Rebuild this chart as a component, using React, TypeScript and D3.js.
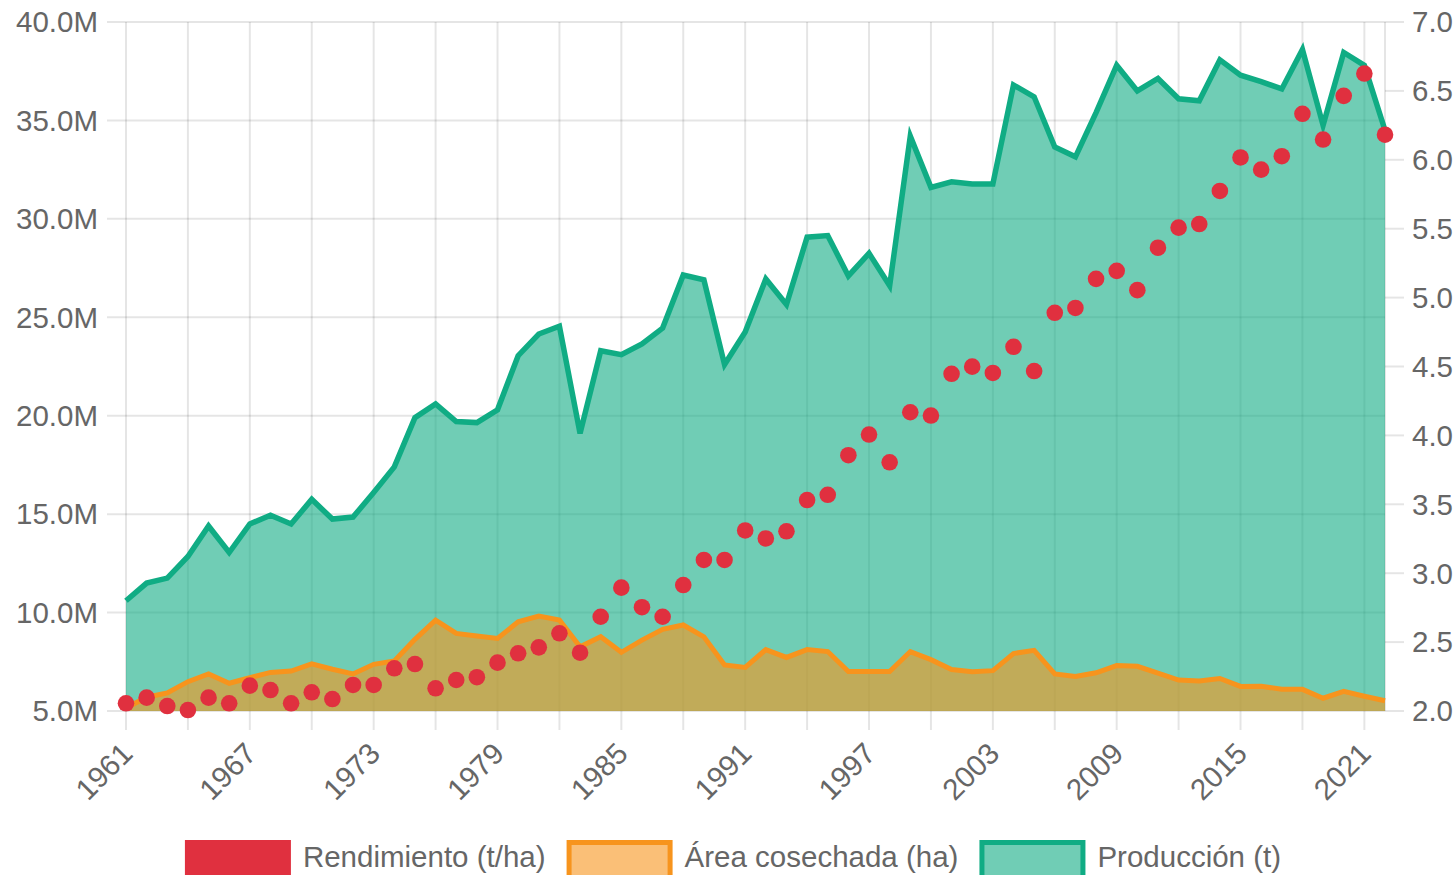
import React, { useEffect, useRef } from 'react';
import * as d3 from 'd3';

// Years 1961-2022
const years = [
  1961, 1962, 1963, 1964, 1965, 1966, 1967, 1968, 1969, 1970,
  1971, 1972, 1973, 1974, 1975, 1976, 1977, 1978, 1979, 1980,
  1981, 1982, 1983, 1984, 1985, 1986, 1987, 1988, 1989, 1990,
  1991, 1992, 1993, 1994, 1995, 1996, 1997, 1998, 1999, 2000,
  2001, 2002, 2003, 2004, 2005, 2006, 2007, 2008, 2009, 2010,
  2011, 2012, 2013, 2014, 2015, 2016, 2017, 2018, 2019, 2020,
  2021, 2022,
];

// Producción (millones de t)
const produccion = [
  10.6, 11.5, 11.75, 12.85, 14.4, 13.05, 14.5, 14.95, 14.5, 15.75,
  14.75, 14.85, 16.1, 17.4, 19.9, 20.6, 19.7, 19.65, 20.3, 23.05,
  24.15, 24.55, 19.1, 23.3, 23.1, 23.65, 24.45, 27.15, 26.9, 22.6,
  24.25, 26.95, 25.65, 29.07, 29.15, 27.1, 28.25, 26.6, 34.2, 31.6,
  31.88, 31.77, 31.77, 36.8, 36.2, 33.65, 33.15, 35.4, 37.8, 36.5,
  37.13, 36.1, 36.0, 38.08, 37.3, 36.97, 36.6, 38.6, 34.75, 38.45,
  37.8, 34.5,
];

// Área cosechada (millones de ha)
const area = [
  5.15, 5.7, 5.92, 6.49, 6.88, 6.41, 6.69, 6.96, 7.03, 7.39,
  7.12, 6.88, 7.37, 7.54, 8.64, 9.62, 8.94, 8.81, 8.69, 9.53,
  9.82, 9.62, 8.26, 8.77, 7.98, 8.6, 9.15, 9.37, 8.77, 7.34,
  7.21, 8.12, 7.72, 8.12, 8.02, 7.01, 7.01, 7.01, 8.02, 7.61,
  7.11, 7.0, 7.05, 7.92, 8.08, 6.88, 6.75, 6.94, 7.31, 7.27,
  6.93, 6.57, 6.53, 6.65, 6.25, 6.26, 6.1, 6.1, 5.65, 6.0,
  5.75, 5.52,
];

// Rendimiento (t/ha)
const rendimiento = [
  2.056, 2.097, 2.036, 2.007, 2.097, 2.056, 2.184, 2.152, 2.056, 2.136,
  2.087, 2.189, 2.189, 2.31, 2.341, 2.165, 2.225, 2.245, 2.351, 2.419,
  2.462, 2.564, 2.423, 2.684, 2.895, 2.753, 2.684, 2.914, 3.096, 3.096,
  3.31, 3.252, 3.304, 3.531, 3.569, 3.856, 4.006, 3.805, 4.168, 4.144,
  4.447, 4.499, 4.453, 4.643, 4.467, 4.89, 4.925, 5.136, 5.194, 5.054,
  5.362, 5.508, 5.534, 5.774, 6.017, 5.929, 6.026, 6.334, 6.147, 6.464,
  6.626, 6.182,
];

const leftTicks = [5, 10, 15, 20, 25, 30, 35, 40];
const rightTicks = [2.0, 2.5, 3.0, 3.5, 4.0, 4.5, 5.0, 5.5, 6.0, 6.5, 7.0];
const gridYears = [1961, 1964, 1967, 1970, 1973, 1976, 1979, 1982, 1985, 1988, 1991, 1994, 1997, 2000, 2003, 2006, 2009, 2012, 2015, 2018, 2021];
const labelYears = [1961, 1967, 1973, 1979, 1985, 1991, 1997, 2003, 2009, 2015, 2021];

const legendItems = [
  { label: 'Rendimiento (t/ha)', stroke: '#e0303f', fill: '#e0303f' },
  { label: 'Área cosechada (ha)', stroke: '#f7941d', fill: 'rgba(247,148,29,0.6)' },
  { label: 'Producción (t)', stroke: '#10ac84', fill: 'rgba(16,172,132,0.6)' },
];

const App: React.FC = () => {
  const svgRef = useRef<SVGSVGElement>(null);

  useEffect(() => {
    if (!svgRef.current) return;
    const width = 1456;
    const height = 875;
    const margin = { top: 22, right: 71, bottom: 164, left: 126 };
    const font = 'Liberation Sans, Arial, Helvetica, sans-serif';
    const fontSize = 29.5;

    const svg = d3.select(svgRef.current);
    svg.selectAll('*').remove();

    const x = d3.scaleLinear().domain([1961, 2022]).range([margin.left, width - margin.right]);
    const yL = d3.scaleLinear().domain([5, 40]).range([height - margin.bottom, margin.top]);
    const yR = d3.scaleLinear().domain([2, 7]).range([height - margin.bottom, margin.top]);
    const x0 = x.range()[0];
    const x1 = x.range()[1];
    const yBottom = yL.range()[0];

    const grid = svg.append('g').attr('stroke', 'rgba(0,0,0,0.1)').attr('stroke-width', 2);

    // horizontal grid + left ticks
    leftTicks.forEach((t) => {
      grid.append('line').attr('x1', x0 - 19).attr('x2', x1).attr('y1', yL(t)).attr('y2', yL(t));
    });
    // vertical grid + bottom ticks
    gridYears.forEach((yr) => {
      grid.append('line').attr('x1', x(yr)).attr('x2', x(yr)).attr('y1', margin.top).attr('y2', yBottom + 19);
    });
    // right axis line + ticks
    grid.append('line').attr('x1', x1).attr('x2', x1).attr('y1', margin.top).attr('y2', yBottom);
    rightTicks.forEach((t) => {
      grid.append('line').attr('x1', x1).attr('x2', x1 + 19).attr('y1', yR(t)).attr('y2', yR(t));
    });

    const prodData = years.map((yr, i) => ({ yr, v: produccion[i] }));
    const areaData = years.map((yr, i) => ({ yr, v: area[i] }));

    const areaGen = d3.area<{ yr: number; v: number }>()
      .x((d) => x(d.yr))
      .y0(yBottom)
      .y1((d) => yL(d.v));
    const lineGen = d3.line<{ yr: number; v: number }>()
      .x((d) => x(d.yr))
      .y((d) => yL(d.v));

    // Producción
    svg.append('path').datum(prodData).attr('fill', 'rgba(16,172,132,0.6)').attr('d', areaGen as any);
    svg.append('path').datum(prodData)
      .attr('fill', 'none').attr('stroke', '#10ac84').attr('stroke-width', 5.5)
      .attr('stroke-linejoin', 'miter').attr('d', lineGen as any);

    // Área cosechada
    svg.append('path').datum(areaData).attr('fill', 'rgba(247,148,29,0.6)').attr('d', areaGen as any);
    svg.append('path').datum(areaData)
      .attr('fill', 'none').attr('stroke', '#f7941d').attr('stroke-width', 5)
      .attr('stroke-linejoin', 'miter').attr('d', lineGen as any);

    // Rendimiento
    svg.append('g').selectAll('circle')
      .data(years)
      .enter()
      .append('circle')
      .attr('cx', (d) => x(d))
      .attr('cy', (_d, i) => yR(rendimiento[i]))
      .attr('r', 8.3)
      .attr('fill', '#e0303f');

    // left axis labels
    svg.append('g').selectAll('text')
      .data(leftTicks)
      .enter()
      .append('text')
      .attr('x', 98)
      .attr('y', (d) => yL(d))
      .attr('dy', '0.35em')
      .attr('text-anchor', 'end')
      .attr('font-family', font)
      .attr('font-size', fontSize)
      .attr('fill', '#666')
      .text((d) => `${d.toFixed(1)}M`);

    // right axis labels
    svg.append('g').selectAll('text')
      .data(rightTicks)
      .enter()
      .append('text')
      .attr('x', x1 + 27)
      .attr('y', (d) => yR(d))
      .attr('dy', '0.35em')
      .attr('text-anchor', 'start')
      .attr('font-family', font)
      .attr('font-size', fontSize)
      .attr('fill', '#666')
      .text((d) => d.toFixed(1));

    // x labels rotated
    svg.append('g').selectAll('text')
      .data(labelYears)
      .enter()
      .append('text')
      .attr('transform', (d) => `translate(${x(d) + 1},${yBottom + 37}) rotate(-45)`)
      .attr('dy', '0.35em')
      .attr('text-anchor', 'end')
      .attr('font-family', font)
      .attr('font-size', fontSize)
      .attr('fill', '#666')
      .text((d) => String(d));

    // legend
    const boxW = 106;
    const boxH = 40;
    const gapText = 12;
    const itemGap = 21;
    const legend = svg.append('g');
    const widths: number[] = [];
    legendItems.forEach((item) => {
      const t = legend.append('text')
        .attr('font-family', font)
        .attr('font-size', fontSize)
        .attr('fill', '#666')
        .text(item.label);
      widths.push((t.node() as SVGTextElement).getComputedTextLength());
      t.remove();
    });
    const total = d3.sum(widths) + legendItems.length * (boxW + gapText) + (legendItems.length - 1) * itemGap;
    let cx = 733 - total / 2;
    const legendTop = 840;
    legendItems.forEach((item, i) => {
      const sw = i === 0 ? 0 : 5;
      legend.append('rect')
        .attr('x', cx + sw / 2)
        .attr('y', legendTop + sw / 2)
        .attr('width', boxW - sw)
        .attr('height', boxH - sw)
        .attr('fill', item.fill)
        .attr('stroke', i === 0 ? 'none' : item.stroke)
        .attr('stroke-width', sw);
      legend.append('text')
        .attr('x', cx + boxW + gapText)
        .attr('y', 857)
        .attr('dy', '0.35em')
        .attr('font-family', font)
        .attr('font-size', fontSize)
        .attr('fill', '#666')
        .text(item.label);
      cx += boxW + gapText + widths[i] + itemGap;
    });
  }, []);

  return (
    <div style={{ position: 'absolute', left: 0, top: 0 }}>
      <svg ref={svgRef} width={1456} height={875} style={{ display: 'block' }}></svg>
    </div>
  );
};

export default App;
